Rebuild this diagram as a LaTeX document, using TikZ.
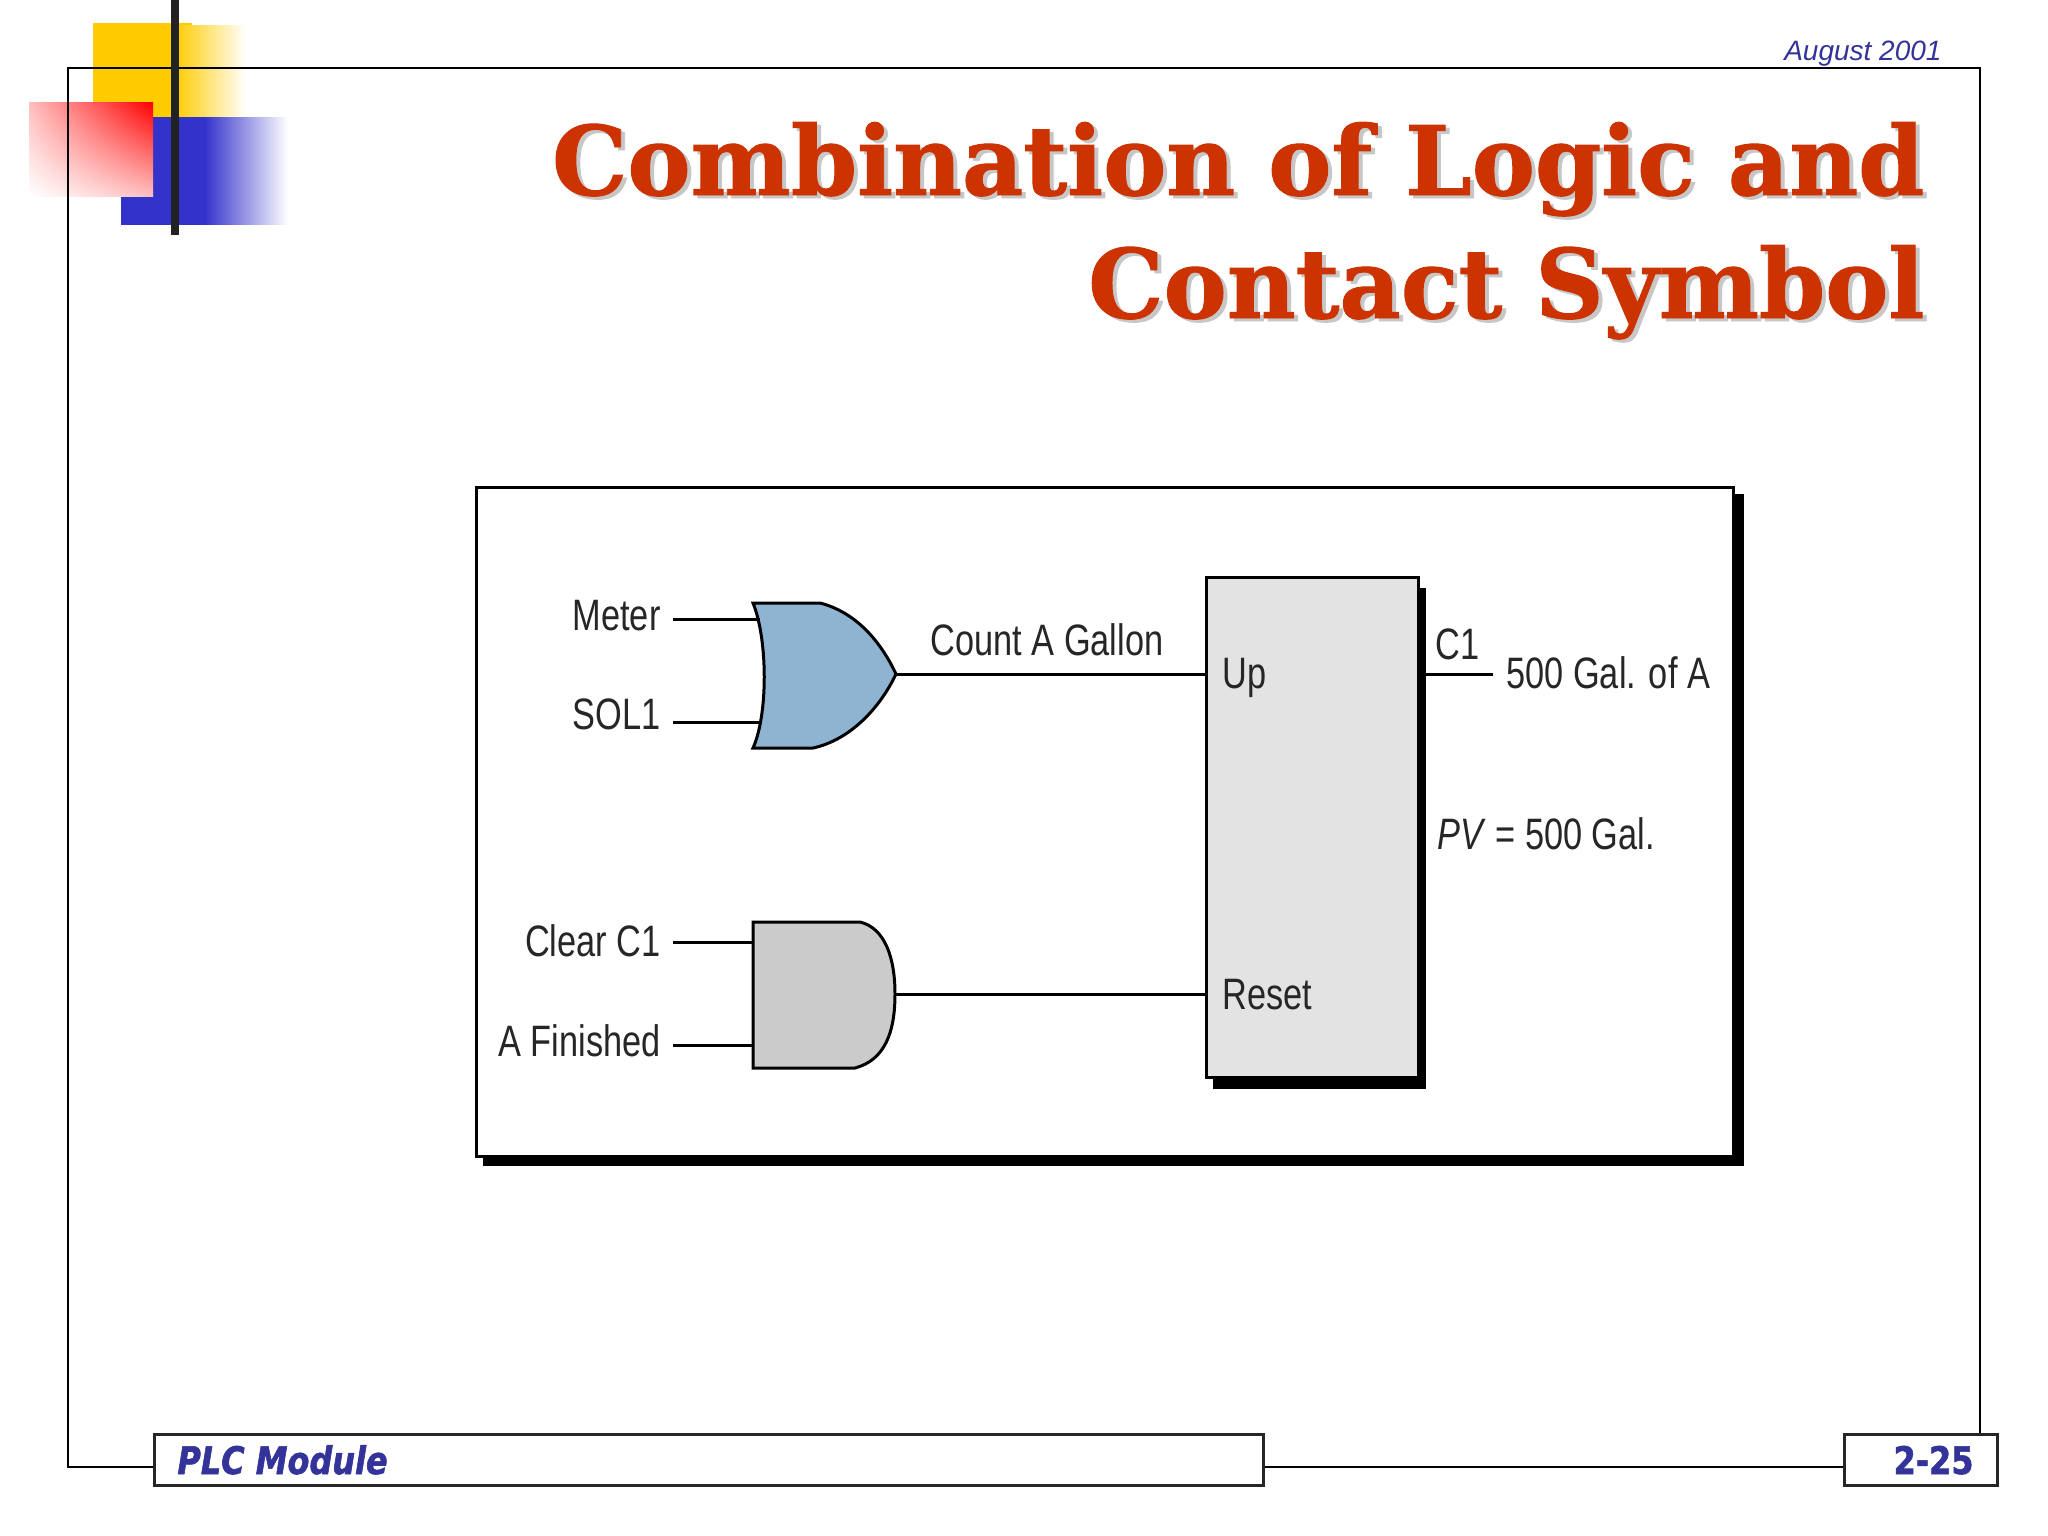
\documentclass[tikz,border=0pt]{standalone}
\usepackage{fontspec}
\usetikzlibrary{positioning,calc,shadings}
\setmainfont{Liberation Sans}
\newfontfamily\labelfont[FakeStretch=0.78]{Liberation Sans}
\newfontfamily\titlefont[FakeStretch=0.987,FakeBold=1]{DejaVu Serif Bold}
\newfontfamily\footfont[FakeStretch=0.84,FakeBold=1.5]{DejaVu Sans}
\definecolor{navy}{HTML}{333399}
\definecolor{titlered}{HTML}{CC3300}
\definecolor{orblue}{HTML}{8FB4D2}
\definecolor{andgray}{HTML}{CBCBCB}
\definecolor{boxgray}{HTML}{E3E3E3}
\definecolor{barblack}{HTML}{222222}
\definecolor{sqyellow}{HTML}{FFCC00}
\definecolor{sqblue}{HTML}{3333CC}

\begin{document}
\begin{tikzpicture}[x=1pt,y=-1pt,line width=3pt,
    lbl/.style={inner sep=0pt,anchor=base west,text=black!85,font=\labelfont\fontsize{44}{50}\selectfont},
    inlbl/.style={lbl,anchor=base east,inner ysep=0pt,inner xsep=11pt},
    gate/.style={draw=black,line width=3pt,line join=miter},
    titletxt/.style={inner sep=0pt,anchor=base east,align=right,font=\titlefont\fontsize{96}{123}\selectfont},
    footbox/.style={draw=black!85,fill=white,line width=2.5pt,inner sep=0pt,anchor=north west}]
  \useasboundingbox (0,0) rectangle (2048,1536);
  \fill[white] (0,0) rectangle (2048,1536);
  % corner squares
  \fill[sqyellow] (93,23) rectangle (192,26);
  \fill[sqyellow] (93,26) rectangle (175,118);
  \shade[left color=sqyellow,right color=white] (175,26) rectangle (246,118);
  \shade[left color=sqblue,right color=white,middle color=sqblue] (121,118) rectangle (288,224);
  \shade[upper right=red,upper left=red!25,lower right=red!25,lower left=white] (29,103) rectangle (153,196);
  % slide frame
  \draw[line width=2.5pt] (68,68) rectangle (1980,1467);
  \fill[barblack] (171,0) rectangle (179,235);
  \node[inner sep=0pt,anchor=base east,text=navy,font=\itshape\fontsize{28}{32}\selectfont] (date) at (1943,61) {August 2001};
  \node[titletxt,text=black!22] (titleshade) at (1930,321) {Combination of Logic and\\Contact Symbol};
  \node[titletxt,text=titlered] (title) at (1926,318) {Combination of Logic and\\Contact Symbol};

  % panel
  \fill[black] (483,494) rectangle (1744,1166);
  \node[draw=black,fill=white,inner sep=0pt,anchor=north west,minimum width=1257pt,minimum height=669pt] (panel) at (475,486) {};

  % or gate
  \coordinate (orA) at (760,619);
  \coordinate (orB) at (762,722);
  \coordinate (orOut) at (896,674);
  \draw[gate,fill=orblue] (753,603) -- (820,603) .. controls (855,612) and (880,640) .. (orOut)
    .. controls (880,708) and (850,740) .. (813,748) -- (753,748)
    .. controls (768,715) and (768,640) .. (753,603) -- cycle;
  % and gate
  \coordinate (andA) at (752,942);
  \coordinate (andB) at (752,1045);
  \coordinate (andOut) at (895,994);
  \draw[gate,fill=andgray] (753,922) -- (860,922) .. controls (885,928) and (895,958) .. (andOut)
    .. controls (895,1032) and (885,1060) .. (855,1068) -- (753,1068) -- cycle;

  % counter block
  \fill[black] (1213,588) rectangle (1426,1089);
  \node[draw=black,fill=boxgray,inner sep=0pt,anchor=north west,minimum width=212pt,minimum height=500pt] (counter) at (1205,576) {};
  \coordinate (cOut) at (1493,674);

  \node[inlbl] (meter) at (673,630) {Meter};
  \node[inlbl] (sol) at (673,729) {SOL1};
  \node[inlbl] (clear) at (673,956) {Clear C1};
  \node[inlbl] (finished) at (673,1056) {A Finished};
  \node[lbl] (count) at (929,655) {Count A Gallon};
  \node[lbl] (up) at (1221,688) {Up};
  \node[lbl] (reset) at (1221,1009) {Reset};
  \node[lbl] (cone) at (1434,659) {C1};
  \node[lbl] (gal) at (1505,688) {500 Gal. of A};
  \node[lbl] (pv) at (1436,849) {\textit{PV} = 500 Gal.};

  \draw (orA -| meter.east) -- (orA);
  \draw (orB -| sol.east) -- (orB);
  \draw (andA -| clear.east) -- (andA);
  \draw (andB -| finished.east) -- (andB);
  \draw (orOut) -- (orOut -| counter.west);
  \draw (andOut) -- (andOut -| counter.west);
  \draw (cOut -| counter.east) -- (cOut);

  % footer
  \node[footbox,minimum width=1109pt,minimum height=51pt] (module) at (153,1433) {};
  \node[footbox,minimum width=153pt,minimum height=51pt] (page) at (1843,1433) {};
  \node[inner sep=0pt,anchor=base west,text=navy,font=\footfont\bfseries\itshape\fontsize{38}{40}\selectfont] (modtext) at (176,1474) {PLC Module};
  \node[inner sep=0pt,anchor=base east,text=navy,font=\footfont\bfseries\fontsize{38}{40}\selectfont] (pagetext) at (1975,1474) {2-25};
\end{tikzpicture}
\end{document}
